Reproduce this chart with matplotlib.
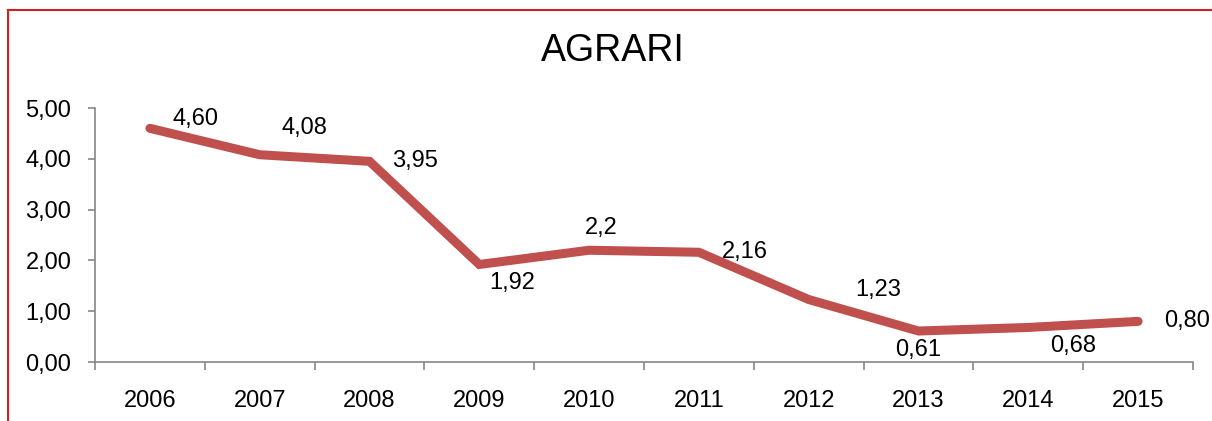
import matplotlib
matplotlib.use("Agg")
import matplotlib.pyplot as plt
from matplotlib.lines import Line2D

# Agricultural series, 2006-2015
years = ["2006", "2007", "2008", "2009", "2010", "2011", "2012", "2013", "2014", "2015"]
values = [4.60, 4.08, 3.95, 1.92, 2.20, 2.16, 1.23, 0.61, 0.68, 0.80]
value_labels = ["4,60", "4,08", "3,95", "1,92", "2,2", "2,16", "1,23", "0,61", "0,68", "0,80"]
y_ticks = [0, 1, 2, 3, 4, 5]
y_tick_labels = ["0,00", "1,00", "2,00", "3,00", "4,00", "5,00"]

# label offsets in points from each data point
label_offsets = [(33, 7), (32, 19), (33, 0), (24, -13), (9, 16),
                 (33, 0), (50, 7), (0, -14), (32, -13), (35, 0)]

plt.rcParams['font.family'] = ['Liberation Sans Narrow', 'Liberation Sans', 'DejaVu Sans']
axis_grey = "#868686"
line_red = "#C0504D"

fig = plt.figure(figsize=(12.12, 4.21), dpi=100)
ax = fig.add_axes([95 / 1212, 59 / 421, 1098 / 1212, 254 / 421])

x = list(range(len(years)))
ax.plot(x, values, color=line_red, linewidth=6.5, solid_capstyle="round",
        solid_joinstyle="miter", zorder=2)

for xi, v, lab, off in zip(x, values, value_labels, label_offsets):
    ax.annotate(lab, (xi, v), xytext=off, textcoords="offset points",
                ha="center", va="center", fontsize=17, color="black", zorder=3)

ax.set_xlim(-0.5, len(years) - 0.5)
ax.set_ylim(0, 5)
ax.set_yticks(y_ticks)
ax.set_yticklabels(y_tick_labels, fontsize=17)
ax.set_xticks(x)
ax.set_xticklabels(years, fontsize=17)
ax.set_xticks([i - 0.5 for i in range(len(years) + 1)], minor=True)
ax.tick_params(axis="x", which="major", length=0, pad=20)
ax.tick_params(axis="x", which="minor", length=6, width=1.2, color=axis_grey)
ax.tick_params(axis="y", length=5, width=1.2, color=axis_grey, pad=12)

for side in ["top", "right"]:
    ax.spines[side].set_visible(False)
for side in ["left", "bottom"]:
    ax.spines[side].set_color(axis_grey)
    ax.spines[side].set_linewidth(1.2)

fig.text(613 / 1212, 1 - 51 / 421, "AGRARI", ha="center", va="center", fontsize=27)

# red frame around the chart area
fig.add_artist(Line2D([8 / 1212, 8 / 1212], [0, 1 - 9.5 / 421], color="#D0201F",
                      linewidth=1.5, transform=fig.transFigure))
fig.add_artist(Line2D([8 / 1212, 1], [1 - 9.5 / 421, 1 - 9.5 / 421], color="#D0201F",
                      linewidth=1.5, transform=fig.transFigure))

fig.savefig("out.png", dpi=100)
